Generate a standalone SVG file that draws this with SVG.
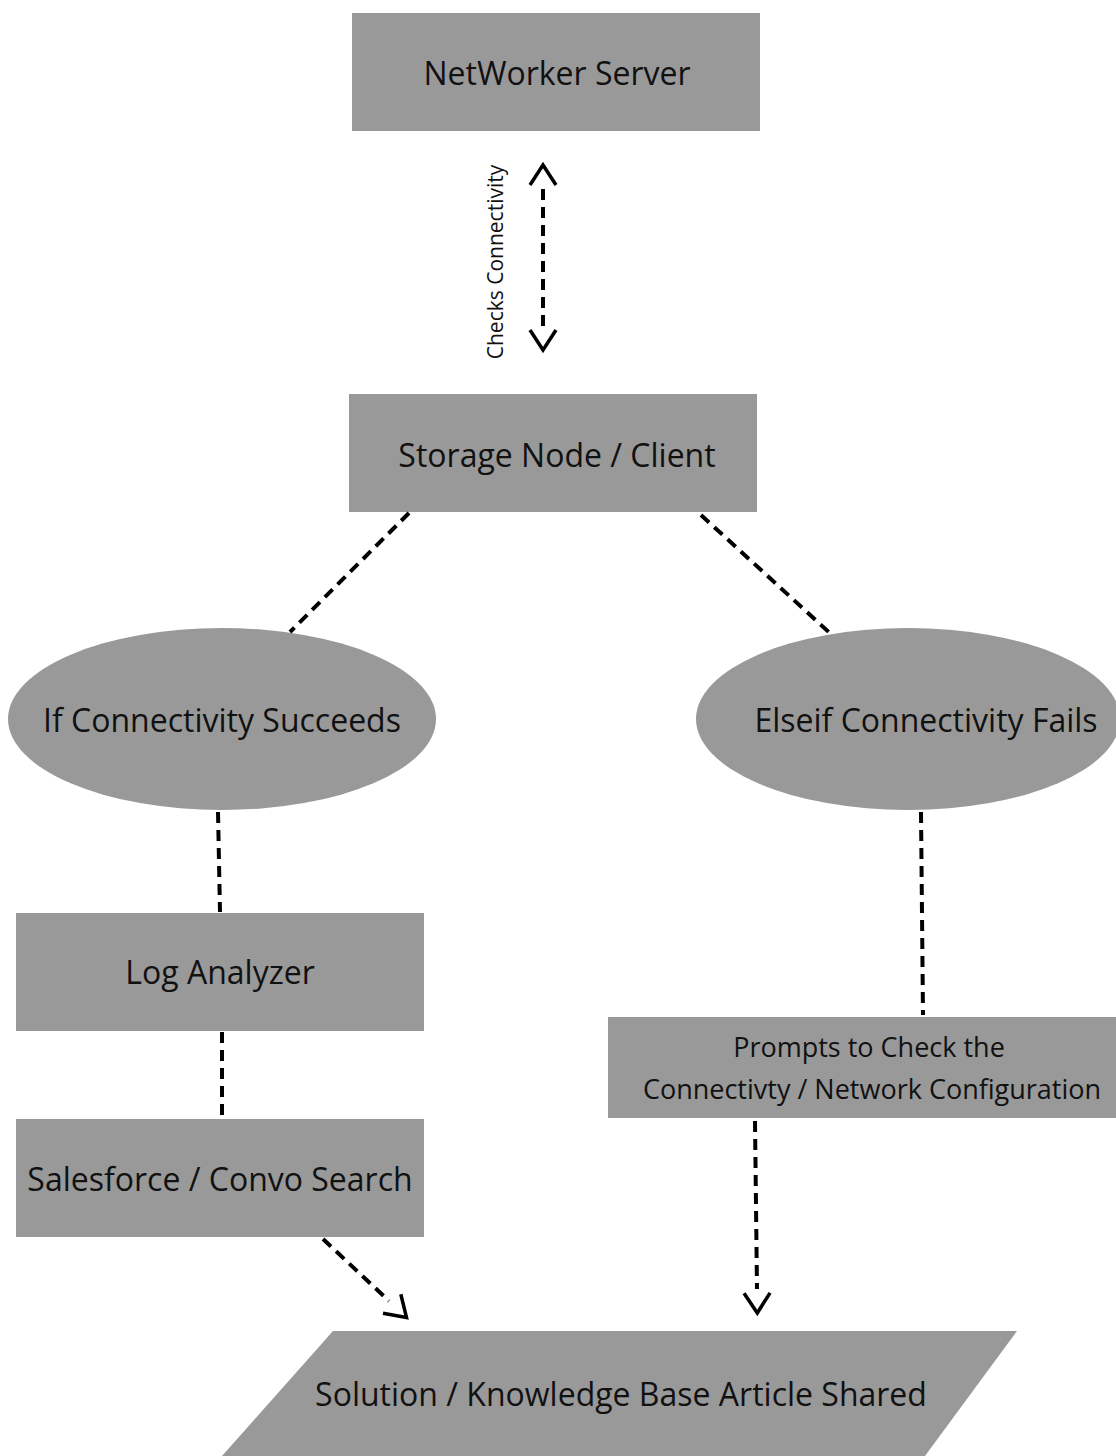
<svg xmlns="http://www.w3.org/2000/svg" width="1116" height="1456" viewBox="0 0 1116 1456">
<style>
.n{fill:#999999}
.t{font-family:"Open Sans","Noto Sans",sans-serif;font-size:32px;fill:#111;text-anchor:middle;dominant-baseline:central}
.s{font-size:27px}
.c{stroke:#000;stroke-width:4;fill:none;stroke-dasharray:11 7}
.lbl{font-family:"Open Sans","Noto Sans",sans-serif;font-size:21px;fill:#111;text-anchor:middle;dominant-baseline:central}
</style>
<defs>
<marker id="ch" markerUnits="userSpaceOnUse" viewBox="-40 -16 44 32" markerWidth="44" markerHeight="32" refX="-24" refY="0" orient="auto-start-reverse" overflow="visible">
<path d="M-20,-13 L0,0 L-20,13" fill="none" stroke="#000" stroke-width="3.5"/>
</marker>
</defs>
<rect width="1116" height="1456" fill="#fff"/>
<g id="networker-server"><rect class="n" x="352" y="13" width="408" height="118"/><text class="t" x="557" y="72">NetWorker Server</text></g>
<g id="storage-node"><rect class="n" x="349" y="394" width="408" height="118"/><text class="t" x="557" y="454">Storage Node / Client</text></g>
<g id="if-succeeds"><ellipse class="n" cx="222" cy="719" rx="214" ry="91"/><text class="t" x="222" y="719">If Connectivity Succeeds</text></g>
<g id="elseif-fails"><ellipse class="n" cx="908" cy="719" rx="212" ry="91"/><text class="t" x="926" y="719">Elseif Connectivity Fails</text></g>
<g id="log-analyzer"><rect class="n" x="16" y="913" width="408" height="118"/><text class="t" x="220" y="971">Log Analyzer</text></g>
<g id="salesforce"><rect class="n" x="16" y="1119" width="408" height="118"/><text class="t" x="220" y="1178">Salesforce / Convo Search</text></g>
<g id="prompts"><rect class="n" x="608" y="1017" width="508" height="101"/><text class="t s" x="869" y="1046">Prompts to Check the</text><text class="t s" x="872" y="1088">Connectivty / Network Configuration</text></g>
<g id="solution"><polygon class="n" points="333,1331 1017,1331 925,1456 222,1456"/><text class="t" x="621" y="1393">Solution / Knowledge Base Article Shared</text></g>
<g id="connectors">
<line class="c" x1="543" y1="189" x2="543" y2="326" marker-start="url(#ch)" marker-end="url(#ch)"/>
<text class="lbl" transform="translate(495,262) rotate(-90)">Checks Connectivity</text>
<line class="c" x1="409" y1="513" x2="290" y2="632"/>
<line class="c" x1="701" y1="515" x2="832" y2="635"/>
<line class="c" x1="218" y1="812" x2="220" y2="912"/>
<line class="c" x1="222" y1="1032" x2="222" y2="1118"/>
<line class="c" x1="921" y1="812" x2="923" y2="1015"/>
<line class="c" x1="323" y1="1239" x2="389" y2="1301" marker-end="url(#ch)"/>
<line class="c" x1="755" y1="1121" x2="757" y2="1289" marker-end="url(#ch)"/>
</g>
</svg>
